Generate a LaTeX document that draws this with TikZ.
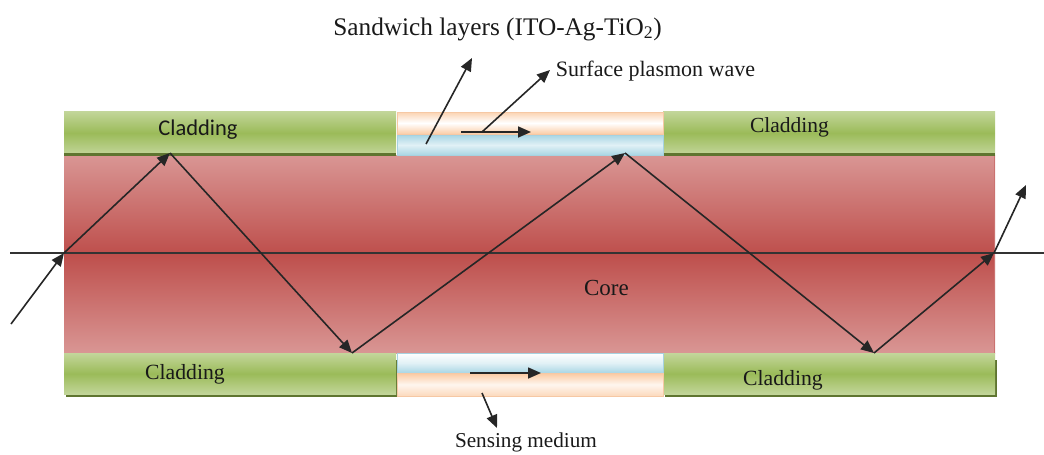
\documentclass[tikz,border=0pt]{standalone}
\usepackage{fontspec}
\setmainfont{Liberation Serif}
\newfontfamily\cladsans{Carlito}
\usetikzlibrary{arrows.meta}
\definecolor{gEdge}{HTML}{C3D69B}
\definecolor{gMid}{HTML}{9BBB59}
\definecolor{gDark}{HTML}{5F7530}
\definecolor{rEdge}{HTML}{D99694}
\definecolor{rMid}{HTML}{BE4F4C}
\definecolor{oEdge}{HTML}{FAC090}
\definecolor{oLine}{HTML}{F6C8A4}
\definecolor{bEdge}{HTML}{A9D6E4}
\definecolor{bLine}{HTML}{A6D2E0}
\tikzset{
  x=1pt,y=-1pt,
  green layer/.style={inner sep=0,outer sep=0,top color=gEdge,bottom color=gEdge,middle color=gMid},
  core layer/.style={inner sep=0,outer sep=0,top color=rEdge,bottom color=rEdge,middle color=rMid},
  orange layer/.style={inner sep=0,outer sep=0,draw=oLine,line width=1pt,top color=oEdge!70,bottom color=oEdge!80,middle color=white},
  orange low/.style={inner sep=0,outer sep=0,draw=oLine,line width=1pt,top color=oEdge!85,bottom color=oEdge!60,middle color=oEdge!15},
  blue layer/.style={inner sep=0,outer sep=0,draw=bLine,line width=1pt,top color=bEdge,bottom color=bEdge,middle color=bEdge!35},
  blue low/.style={inner sep=0,outer sep=0,draw=bLine,line width=1pt,top color=white,bottom color=bEdge,middle color=bEdge!35},
  ray/.style={line width=1.6pt,draw=black!85,-{Triangle[length=13pt,width=11pt]}},
  plain ray/.style={line width=1.3pt,draw=black!80},
  lbl/.style={inner sep=0,text=black!90,anchor=base},
}
\begin{document}
\begin{tikzpicture}
\useasboundingbox (0,0) rectangle (1044,455);
% layers
\fill[core layer] (64,155) rectangle (995,353);
\fill[rMid!80] (993.5,155) rectangle (995,353);
% top cladding
\fill[green layer] (64,111) rectangle (396,155);
\fill[green layer] (663,111) rectangle (995,155);
\fill[gDark] (64,153) rectangle (396,155.5);
\fill[gDark] (663,153) rectangle (995,155.5);
% bottom cladding
\fill[gDark] (66,360) rectangle (397,396.5);
\fill[gDark] (665,360) rectangle (996.5,396.5);
\fill[green layer] (64,353) rectangle (396,394.5);
\fill[green layer] (663,353) rectangle (995,394.5);
% sandwich layers
\draw[orange layer] (397,112) rectangle (663,134);
\draw[blue layer] (397,135) rectangle (663,155);
\draw[blue low] (397,353) rectangle (663,373);
\draw[orange low] (397,373) rectangle (663,396);
% coordinates
\coordinate (axisL) at (10,253);
\coordinate (axisR) at (1044,253);
\coordinate (inS) at (11,324);
\coordinate (p0) at (64,253);
\coordinate (p1) at (170,153);
\coordinate (p2) at (352,353);
\coordinate (p3) at (625,153);
\coordinate (p4) at (874,353);
\coordinate (p5) at (994,253);
\coordinate (outE) at (1026,185);
\coordinate (sandS) at (426,144);
\coordinate (sandE) at (472,58);
\coordinate (spS) at (461,132);
\coordinate (spE) at (531,132);
\coordinate (spB) at (482,132);
\coordinate (waveE) at (550,70);
\coordinate (botS) at (470,373);
\coordinate (botE) at (541,373);
\coordinate (senS) at (482,393);
\coordinate (senE) at (497,428);
% rays
\draw[plain ray] (axisL) -- (axisR);
\draw[ray] (inS) -- (p0);
\draw[ray] (p0) -- (p1);
\draw[ray] (p1) -- (p2);
\draw[ray] (p2) -- (p3);
\draw[ray] (p3) -- (p4);
\draw[ray] (p4) -- (p5);
\draw[ray] (p5) -- (outE);
\draw[ray] (sandS) -- (sandE);
\draw[ray] (spS) -- (spE);
\draw[ray] (spB) -- (waveE);
\draw[ray] (botS) -- (botE);
\draw[ray] (senS) -- (senE);
% labels
\node[lbl,font=\fontsize{25.3}{28}\selectfont] (title) at (497.5,35) {Sandwich layers (ITO-Ag-TiO\textsubscript{2})};
\node[lbl,font=\fontsize{22}{24}\selectfont] (wave) at (655.5,76) {Surface plasmon wave};
\node[lbl,font=\fontsize{21.2}{24}\selectfont] (sens) at (526,447) {Sensing medium};
\node[lbl,font=\fontsize{23}{25}\selectfont] (core) at (606.5,295) {Core};
\node[lbl,font=\cladsans\fontsize{22.5}{24}\selectfont] (c1) at (198,135) {Cladding};
\node[lbl,font=\fontsize{21.5}{24}\selectfont] (c2) at (789.5,132) {Cladding};
\node[lbl,font=\fontsize{21.7}{24}\selectfont] (c3) at (185,379) {Cladding};
\node[lbl,font=\fontsize{21.7}{24}\selectfont] (c4) at (783,385) {Cladding};
\end{tikzpicture}
\end{document}
